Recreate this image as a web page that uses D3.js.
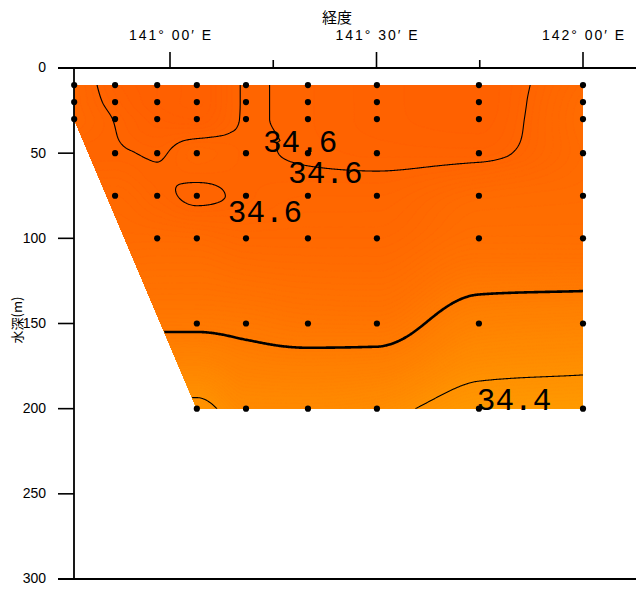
<!DOCTYPE html>
<html><head><meta charset="utf-8">
<script src="https://cdn.jsdelivr.net/npm/d3@7"></script>
<style>html,body{margin:0;padding:0;background:#fff} svg{display:block}</style>
</head><body><svg id="chart" width="636" height="590"></svg>
<script>
// ---------------- data ----------------
const stationLon = [140.768, 140.867, 140.969, 141.065, 141.184, 141.334, 141.501, 141.748, 142.0];
const depthLevels = [10, 20, 30, 50, 75, 100, 150, 200];
// salinity (PSU) per station, aligned with depthLevels; null = not observed
const salS0 = [34.585, 34.585, 34.583, null, null, null, null, null];
const salS1 = [34.610, 34.606, 34.601, 34.598, 34.580, null, null, null];
const salS2 = [34.620, 34.620, 34.615, 34.602, 34.594, 34.570, null, null];
const salS3 = [34.625, 34.625, 34.620, 34.590, 34.603, 34.572, 34.510, 34.383];
const salS4 = [34.599, 34.599, 34.599, 34.597, 34.597, 34.580, 34.515, 34.430];
const salS5 = [34.6035, 34.6035, 34.6035, 34.602, 34.592, 34.580, 34.524, 34.430];
const salS6 = [34.610, 34.610, 34.610, 34.605, 34.592, 34.580, 34.525, 34.420];
const salS7 = [34.615, 34.615, 34.614, 34.606, 34.570, 34.555, 34.466, 34.368];
const salS8 = [34.574, 34.569, 34.567, 34.571, 34.565, 34.555, 34.458, 34.362];
const salinity = [salS0, salS1, salS2, salS3, salS4, salS5, salS6, salS7, salS8];

const contourLevels = [34.4, 34.5, 34.6];
const boldLevel = 34.5;
const contourLabelText = ["34.6", "34.6", "34.6", "34.4"];
const contourLabelLon = [141.225, 141.286, 141.140, 141.743];
const contourLabelDepth = [49.3, 67.5, 90.4, 200.8];

const lonMajor = [141.0, 141.5, 142.0];
const lonMajorLabels = ["141° 00′ E", "141° 30′ E", "142° 00′ E"];
const lonMinor = [141.25, 141.75];
const depthTicks = [0, 50, 100, 150, 200, 250, 300];
const xTitle = "経度";
const yTitle = "水深(m)";

// ---------------- scales ----------------
const svg = d3.select("#chart");
const x = d3.scaleLinear().domain([141, 142]).range([170, 583]);
const y = d3.scaleLinear().domain([0, 300]).range([68, 579]);
const color = d3.scaleLinear().domain([34.36, 34.62]).range(["#ff9a00", "#ff6000"]).clamp(true);

// ---------------- gridding (monotone cubic, separable) ----------------
const nS = stationLon.length, nD = depthLevels.length;
const filled = salinity.map(r => r.slice());
for (let k = 0; k < nD; k++) {
  for (let i = 0; i < nS; i++) {
    if (filled[i][k] == null) {
      let j = i; while (j < nS && salinity[j][k] == null) j++;
      filled[i][k] = salinity[j][k];
    }
  }
}
const sx = stationLon.map(d => x(d));
const sy = depthLevels.map(d => y(d));

function slopes(xs, ys) {
  const n = xs.length, h = [], s = [], m = new Array(n);
  for (let i = 0; i < n - 1; i++) { h[i] = xs[i + 1] - xs[i]; s[i] = (ys[i + 1] - ys[i]) / h[i]; }
  m[0] = s[0]; m[n - 1] = s[n - 2];
  for (let i = 1; i < n - 1; i++) {
    const p = (s[i - 1] * h[i] + s[i] * h[i - 1]) / (h[i - 1] + h[i]);
    m[i] = (Math.sign(s[i - 1]) + Math.sign(s[i])) * Math.min(Math.abs(s[i - 1]), Math.abs(s[i]), 0.5 * Math.abs(p));
  }
  return m;
}
function hermite(xs, ys, m, v) {
  const n = xs.length;
  if (v <= xs[0]) return ys[0];
  if (v >= xs[n - 1]) return ys[n - 1];
  let i = 0; while (xs[i + 1] < v) i++;
  const h = xs[i + 1] - xs[i], t = (v - xs[i]) / h, t2 = t * t, t3 = t2 * t;
  return (2 * t3 - 3 * t2 + 1) * ys[i] + (t3 - 2 * t2 + t) * h * m[i] +
         (-2 * t3 + 3 * t2) * ys[i + 1] + (t3 - t2) * h * m[i + 1];
}
const colSlopes = filled.map(col => slopes(sy, col));

const gx0 = 68, gy0 = 79, W = 524, H = 336;
const values = new Float64Array(W * H);
for (let j = 0; j < H; j++) {
  const py = gy0 + j + 0.5;
  const rowVals = filled.map((col, i) => hermite(sy, col, colSlopes[i], py));
  const rowSl = slopes(sx, rowVals);
  for (let i = 0; i < W; i++) {
    values[j * W + i] = hermite(sx, rowVals, rowSl, gx0 + i + 0.5);
  }
}

// hull of observation points for clipping
const pts = [];
salinity.forEach((row, i) => row.forEach((val, k) => { if (val != null) pts.push([x(stationLon[i]), y(depthLevels[k]), val]); }));
const hull = d3.polygonHull(pts.map(p => [p[0], p[1]]));
svg.append("defs").append("clipPath").attr("id", "hullClip")
  .append("path").attr("d", "M" + hull.join("L") + "Z");

const path = d3.geoPath();
const plot = svg.append("g").attr("clip-path", "url(#hullClip)");

// filled colour bands
const step = 0.004;
const bandThresholds = d3.range(34.30, 34.68, step);
const bands = d3.contours().size([W, H]).thresholds(bandThresholds)(values);
plot.append("g").attr("transform", `translate(${gx0},${gy0})`)
  .selectAll("path").data(bands).join("path")
  .attr("d", path)
  .attr("fill", d => color(d.value + step / 2))
  .attr("stroke", d => color(d.value + step / 2))
  .attr("stroke-width", 0.5);

// contour lines
const lines = d3.contours().size([W, H]).thresholds(contourLevels)(values);
plot.append("g").attr("transform", `translate(${gx0},${gy0})`)
  .selectAll("path").data(lines).join("path")
  .attr("d", path)
  .attr("fill", "none")
  .attr("stroke", "#000")
  .attr("stroke-width", d => Math.abs(d.value - boldLevel) < 1e-9 ? 2.6 : 1.1);

// contour labels
svg.append("g").selectAll("text").data(contourLabelText).join("text")
  .attr("x", (d, i) => x(contourLabelLon[i]))
  .attr("y", (d, i) => y(contourLabelDepth[i]))
  .attr("font-family", "Liberation Mono, monospace")
  .attr("font-size", 31)
  .attr("fill", "#000")
  .text(d => d);

// station dots
svg.append("g").selectAll("circle").data(pts).join("circle")
  .attr("cx", d => d[0]).attr("cy", d => d[1]).attr("r", 3.1).attr("fill", "#000");

// ---------------- axes ----------------
const axisFont = "Liberation Sans, Arial, sans-serif";
const topMajor = svg.append("g").attr("transform", "translate(0,68)")
  .call(d3.axisTop(x).tickValues(lonMajor).tickFormat((d, i) => lonMajorLabels[i]).tickSize(16).tickPadding(12).offset(0));
const topMinor = svg.append("g").attr("transform", "translate(0,68)")
  .call(d3.axisTop(x).tickValues(lonMinor).tickFormat(() => "").tickSize(8).offset(0));
const left = svg.append("g").attr("transform", "translate(74,0)")
  .call(d3.axisLeft(y).tickValues(depthTicks).tickSize(16).tickPadding(12).offset(0));
[topMajor, topMinor, left].forEach(g => {
  g.select(".domain").remove();
  g.selectAll(".tick line").attr("stroke", "#000").attr("stroke-width", 1.6);
  g.selectAll(".tick text").attr("font-family", axisFont).attr("font-size", 14).attr("fill", "#000");
});
topMajor.selectAll(".tick text").attr("textLength", 82).attr("lengthAdjust", "spacing");

svg.append("path")
  .attr("d", `M58,${y(0)}H636M74,${y(0)}V${y(300)}M58,${y(300)}H636`)
  .attr("fill", "none").attr("stroke", "#000").attr("stroke-width", 1.8);

svg.append("text").attr("x", 337).attr("y", 23).attr("text-anchor", "middle")
  .attr("font-family", "Noto Sans CJK JP").attr("font-size", 15).attr("fill", "#000").text(xTitle);
svg.append("text").attr("transform", "translate(22,320) rotate(-90)").attr("text-anchor", "middle")
  .attr("font-family", "Noto Sans CJK JP").attr("font-size", 13).attr("fill", "#000").text(yTitle);
</script></body></html>
